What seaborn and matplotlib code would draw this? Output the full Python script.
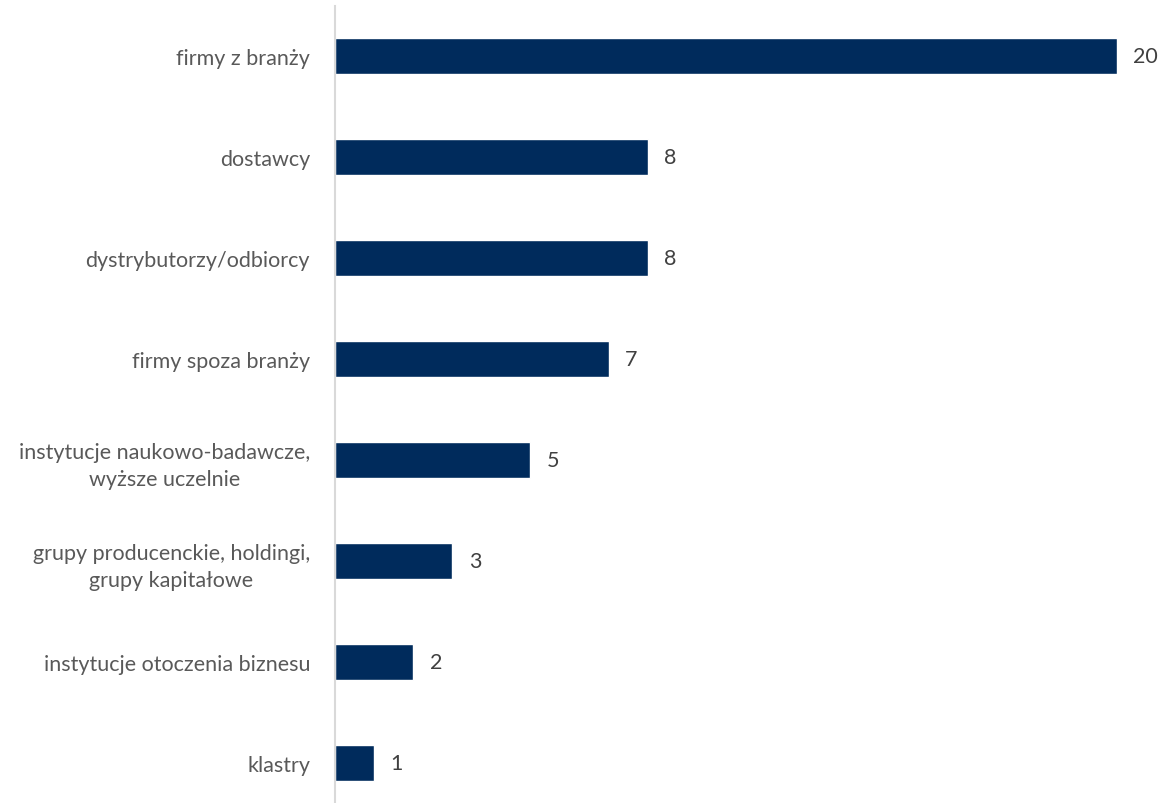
import matplotlib
matplotlib.use("Agg")
import matplotlib.pyplot as plt
import seaborn as sns
import pandas as pd

categories = [
    "firmy z branży",
    "dostawcy",
    "dystrybutorzy/odbiorcy",
    "firmy spoza branży",
    "instytucje naukowo-badawcze,\nwyższe uczelnie",
    "grupy producenckie, holdingi,\ngrupy kapitałowe",
    "instytucje otoczenia biznesu",
    "klastry",
]
counts = [20, 8, 8, 7, 5, 3, 2, 1]

sns.set_style("white")
plt.rcParams["font.family"] = ["Lato", "DejaVu Sans"]

df = pd.DataFrame({"kategoria": categories, "liczba": counts})

fig = plt.figure(figsize=(11.6, 8.04), dpi=100)
ax = fig.add_axes([0.2888, -10.5 / 804, 0.674, 808 / 804])
sns.barplot(data=df, x="liczba", y="kategoria", color="#002b5c", width=0.35,
            saturation=1, ax=ax)

for i, v in enumerate(counts):
    ax.text(v + 0.42, i, str(v), va="center", ha="left", fontsize=15.5,
            color="#404040", clip_on=False)

ax.set_xlim(0, 20)
ax.set_ylim(7.5, -0.5)
ax.set_xlabel("")
ax.set_ylabel("")
ax.set_xticks([])
ax.tick_params(axis="y", length=0, pad=18, labelsize=15.5, labelcolor="#595959")
for lbl in ax.get_yticklabels():
    lbl.set_multialignment("center")
    lbl.set_linespacing(1.45)
for s in ["top", "right", "bottom"]:
    ax.spines[s].set_visible(False)
ax.spines["left"].set_color("#d9d9d9")
ax.spines["left"].set_linewidth(1.5)

fig.savefig("out.png", dpi=100)
